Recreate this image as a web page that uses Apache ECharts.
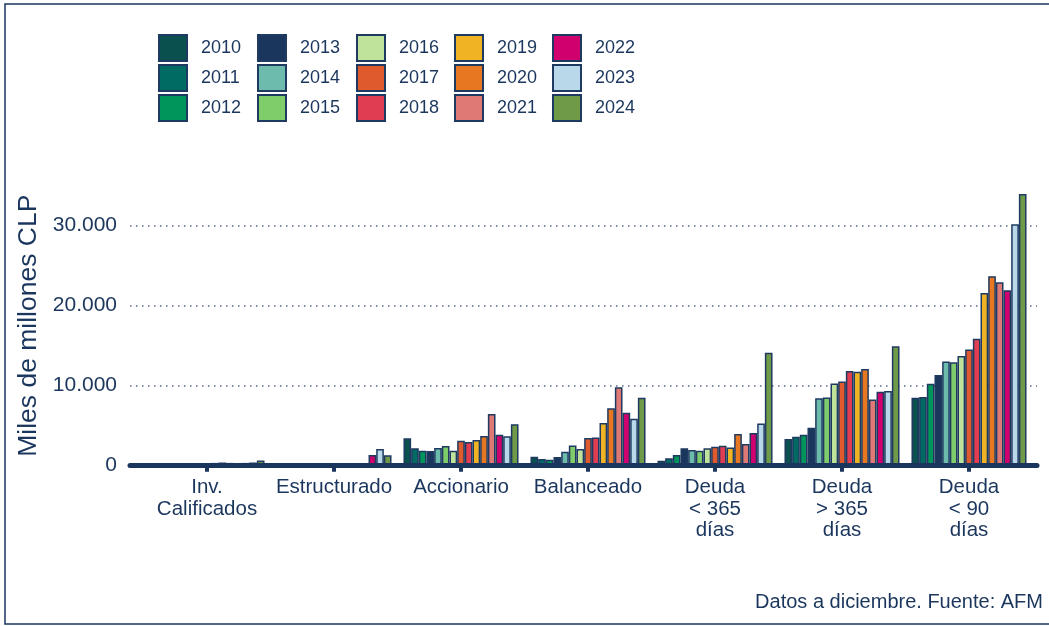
<!DOCTYPE html>
<html>
<head>
<meta charset="utf-8">
<script src="https://cdn.jsdelivr.net/npm/echarts@6/dist/echarts.min.js"></script>
<style>
  html, body { margin: 0; padding: 0; background: #fff; }
  #chart { width: 1049px; height: 626px; }
</style>
</head>
<body>
<div id="chart"></div>
<script>
// categorias del eje x
var categories = ['Inv.\nCalificados', 'Estructurado', 'Accionario', 'Balanceado',
  'Deuda\n< 365\ndías', 'Deuda\n> 365\ndías', 'Deuda\n< 90\ndías'];
var years = ['2010', '2011', '2012', '2013', '2014', '2015', '2016', '2017',
  '2018', '2019', '2020', '2021', '2022', '2023', '2024'];
var colors = ['#0a504f', '#006b63', '#00955a', '#1b365d', '#6dbbac', '#7fcc6b',
  '#bfe39a', '#df5a2c', '#e03c52', '#f0b323', '#e87722', '#df7975',
  '#d0006f', '#b9d9eb', '#6f9a47'];

// valores por categoria, 2010..2024 (miles de millones CLP)
var invCalificados = [50, 100, 150, 200, 250, 250, 300, 300, 350, 400, 350, 300, 350, 400, 650];
var estructurado = [250, 100, 0, 0, 0, 0, 0, 50, 50, 100, 100, 50, 1350, 2100, 1300];
var accionario = [3420, 2180, 1880, 1850, 2210, 2460, 1880, 3120, 2960, 3210, 3710, 6460, 3880, 3670, 5170];
var balanceado = [1120, 840, 750, 1090, 1750, 2540, 2090, 3460, 3540, 5340, 7170, 9800, 6620, 5880, 8500];
var deuda365menos = [620, 920, 1340, 2170, 1960, 1880, 2170, 2380, 2500, 2290, 3960, 2710, 4090, 5290, 14120];
var deuda365mas = [3340, 3630, 3880, 4750, 8420, 8540, 10290, 10540, 11830, 11750, 12080, 8290, 9250, 9330, 14920];
var deuda90 = [8500, 8580, 10250, 11340, 13040, 12920, 13710, 14540, 15880, 21590, 23670, 22920, 21920, 30170, 33960];

var groups = [invCalificados, estructurado, accionario, balanceado, deuda365menos, deuda365mas, deuda90];
var navy = '#1b365d';
var font = "'Liberation Sans', Arial, sans-serif";

function fmt(v) {
  return String(v).replace(/\B(?=(\d{3})+(?!\d))/g, '.');
}

var series = years.map(function (y, i) {
  return {
    name: y,
    type: 'bar',
    xAxisIndex: 1,
    yAxisIndex: 1,
    barGap: 0,
    barCategoryGap: '9.4%',
    itemStyle: { color: colors[i], borderColor: '#1f3a60', borderWidth: 1.5 },
    data: groups.map(function (g) { return g[i]; })
  };
});

var legendLeft = [158, 257, 356, 454, 552];
var legends = legendLeft.map(function (l, c) {
  return {
    orient: 'vertical',
    left: l,
    top: 34,
    padding: 0,
    itemWidth: 28,
    itemHeight: 26,
    itemGap: 2,
    icon: 'rect',
    selectedMode: false,
    data: years.slice(c * 3, c * 3 + 3),
    textStyle: { fontSize: 18, color: navy, fontFamily: font, padding: [0, 0, 0, 9] }
  };
});

var chart = echarts.init(document.getElementById('chart'));
chart.setOption({
  animation: false,
  textStyle: { fontFamily: font },
  title: {
    text: 'Datos a diciembre. Fuente: AFM',
    right: 6,
    top: 592,
    padding: 0,
    textStyle: { fontSize: 20, fontWeight: 'normal', color: navy, fontFamily: font }
  },
  legend: legends,
  grid: [
    { left: 130, right: 12, top: 185.7, bottom: 160.3 },
    { left: 143.5, right: 16.5, top: 185.7, bottom: 160.3 }
  ],
  xAxis: [
    {
      type: 'category',
      gridIndex: 0,
      data: [''],
      z: 10,
      axisLine: { lineStyle: { color: navy, width: 5 } },
      axisTick: { show: false },
      axisLabel: { show: false }
    },
    {
      type: 'category',
      gridIndex: 1,
      data: categories,
      axisLine: { show: false },
      axisTick: { show: true, alignWithLabel: true, length: 6, lineStyle: { color: navy, width: 4 } },
      axisLabel: { interval: 0, fontSize: 20.5, lineHeight: 21.5, margin: 11, color: navy, fontFamily: font }
    }
  ],
  yAxis: [
    {
      type: 'value',
      gridIndex: 0,
      min: 0,
      max: 35000,
      interval: 10000,
      name: 'Miles de millones CLP',
      nameLocation: 'middle',
      nameGap: 83,
      nameRotate: 90,
      nameTextStyle: { fontSize: 26.5, color: navy, fontFamily: font },
      axisLine: { show: false },
      axisTick: { show: false },
      axisLabel: { fontSize: 21, color: navy, margin: 13, showMaxLabel: false, formatter: fmt, fontFamily: font },
      splitLine: {
        show: true,
        showMinLine: false,
        showMaxLine: false,
        lineStyle: { color: '#56688a', width: 1.5, type: [1.5, 4.5] }
      }
    },
    {
      type: 'value',
      gridIndex: 1,
      min: 0,
      max: 35000,
      interval: 10000,
      show: false,
      splitLine: { show: false }
    }
  ],
  graphic: [
    {
      type: 'rect',
      shape: { x: 5, y: 4, width: 1050, height: 620 },
      style: { fill: null, stroke: navy, lineWidth: 1.5 },
      silent: true
    }
  ],
  series: series
});
</script>
</body>
</html>
